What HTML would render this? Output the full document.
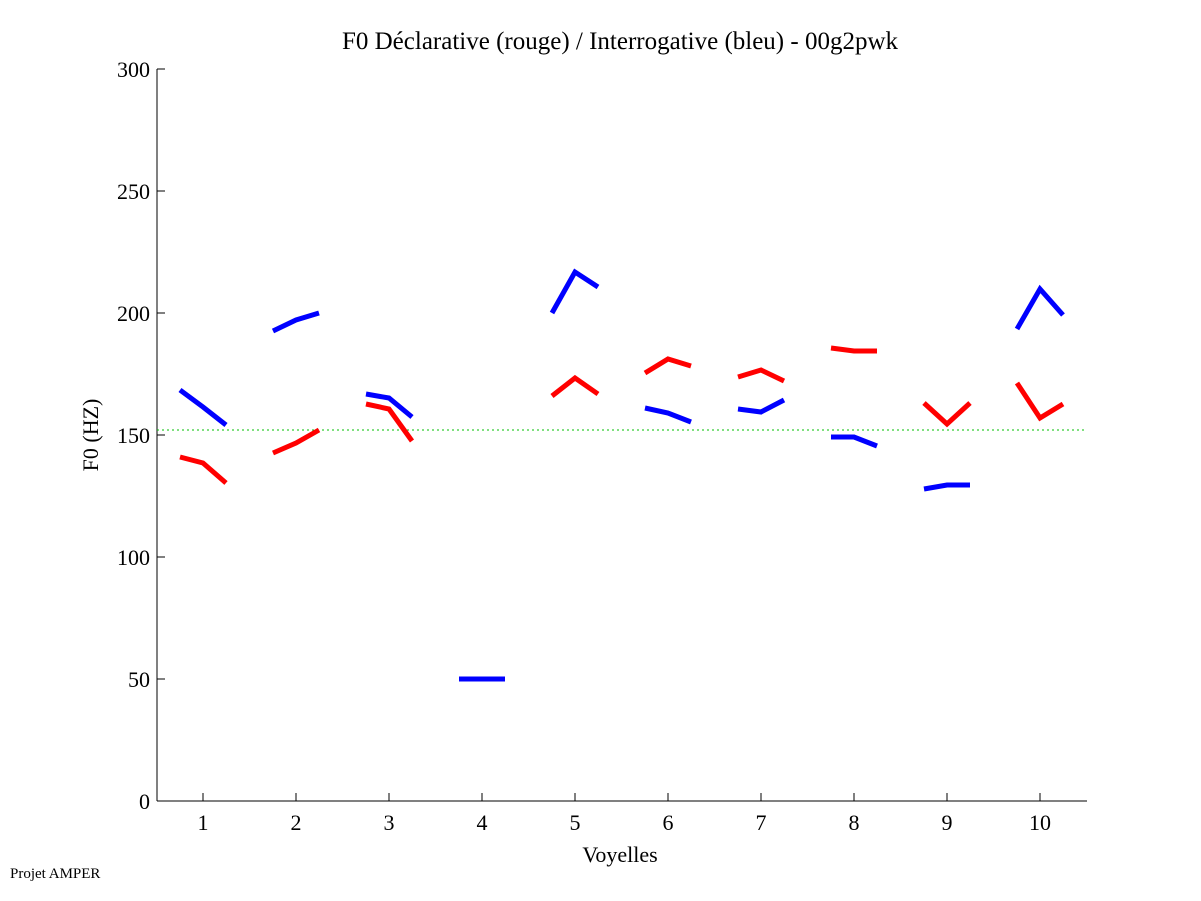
<!DOCTYPE html>
<html><head><meta charset="utf-8"><style>body{margin:0;background:#fff}svg{display:block}text{font-family:"Liberation Serif",serif;fill:#000}</style></head><body>
<svg width="1201" height="901" viewBox="0 0 1201 901" xmlns="http://www.w3.org/2000/svg">
<rect width="1201" height="901" fill="#fff"/>
<text x="620" y="49" font-size="25" text-anchor="middle">F0 Déclarative (rouge) / Interrogative (bleu) - 00g2pwk</text>
<g stroke="#000" stroke-width="1" fill="none">
<line x1="157" y1="69" x2="157" y2="801"/>
<line x1="157" y1="801" x2="1087" y2="801"/>
<path d="M157 69h8M157 191h8M157 313h8M157 435h8M157 557h8M157 679h8M157 801h8"/>
<path d="M203 801v-8M296 801v-8M389 801v-8M482 801v-8M575 801v-8M668 801v-8M761 801v-8M854 801v-8M947 801v-8M1040 801v-8"/>
</g>
<g font-size="22" text-anchor="end">
<text x="150" y="77">300</text><text x="150" y="199">250</text><text x="150" y="321">200</text><text x="150" y="443">150</text><text x="150" y="565">100</text><text x="150" y="687">50</text><text x="150" y="809">0</text>
</g>
<g font-size="22" text-anchor="middle">
<text x="203" y="830">1</text><text x="296" y="830">2</text><text x="389" y="830">3</text><text x="482" y="830">4</text><text x="575" y="830">5</text><text x="668" y="830">6</text><text x="761" y="830">7</text><text x="854" y="830">8</text><text x="947" y="830">9</text><text x="1040" y="830">10</text>
<text x="620" y="862">Voyelles</text>
<text x="98" y="435" transform="rotate(-90 98 435)">F0 (HZ)</text>
</g>
<text x="10" y="878" font-size="15">Projet AMPER</text>
<line x1="157" y1="430" x2="1087" y2="430" stroke="#00c000" stroke-width="1" stroke-dasharray="2,3"/>
<g stroke="#0000ff" stroke-width="5" fill="none">
<polyline points="180,390 203,407 226,425"/>
<polyline points="273,331 296,320 319,313"/>
<polyline points="366,394 389,398 412,417"/>
<polyline points="459,679 482,679 505,679"/>
<polyline points="552,313 575,272 598,287"/>
<polyline points="645,408 668,413 691,422"/>
<polyline points="738,409 761,412 784,400"/>
<polyline points="831,437 854,437 877,446"/>
<polyline points="924,489 947,485 970,485"/>
<polyline points="1017,329 1040,289 1063,315"/>
</g>
<g stroke="#ff0000" stroke-width="5" fill="none">
<polyline points="180,457 203,463 226,483"/>
<polyline points="273,453 296,443 319,430"/>
<polyline points="366,404 389,409 412,441"/>
<polyline points="552,396 575,378 598,394"/>
<polyline points="645,373 668,359 691,366"/>
<polyline points="738,377 761,370 784,381"/>
<polyline points="831,348 854,351 877,351"/>
<polyline points="924,403 947,424 970,403"/>
<polyline points="1017,383 1040,418 1063,404"/>
</g>
</svg>
</body></html>
